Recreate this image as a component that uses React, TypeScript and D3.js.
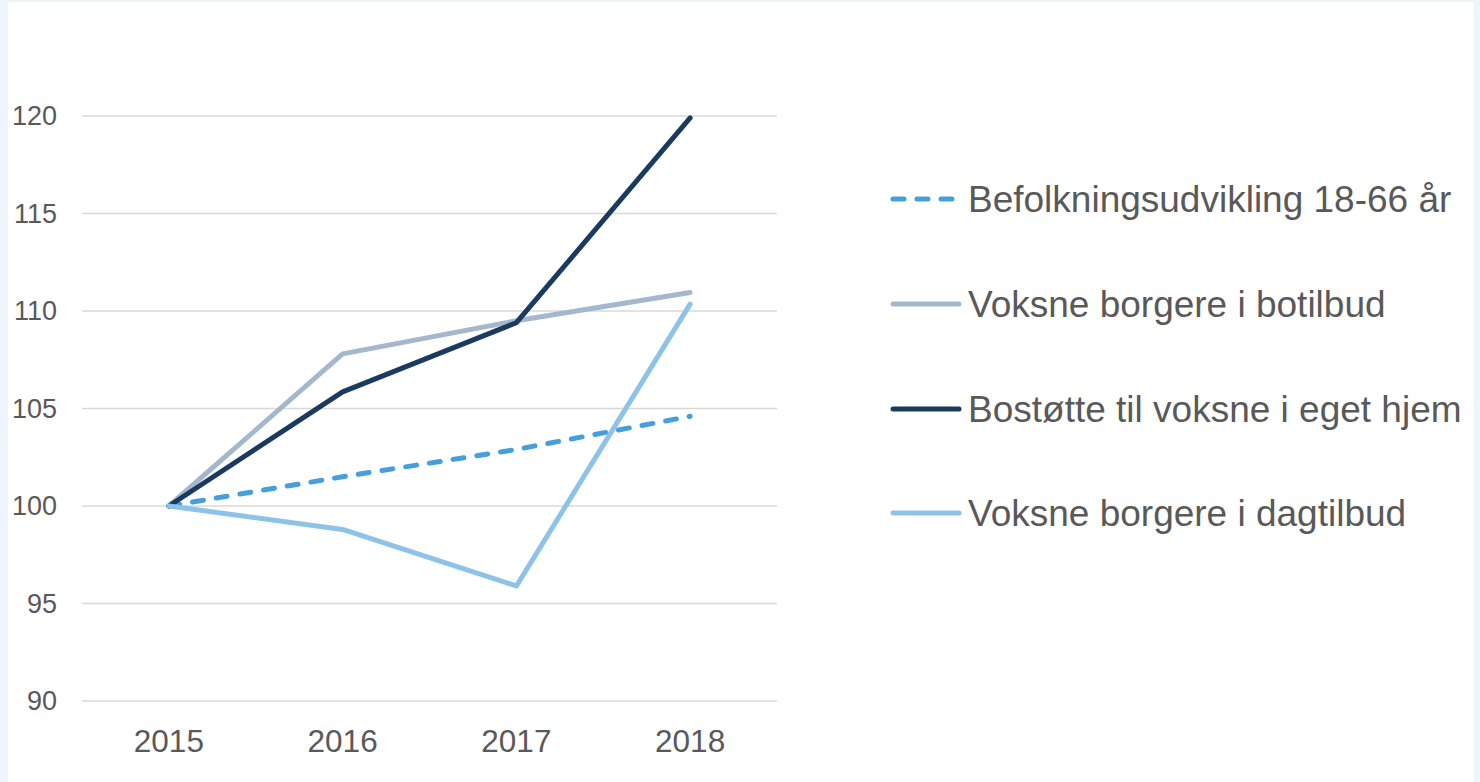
import React from "react";
import * as d3 from "d3";

const years = ["2015", "2016", "2017", "2018"];
const yTicks = [90, 95, 100, 105, 110, 115, 120];

const befolkning = [100, 101.5, 102.9, 104.6];
const botilbud = [100, 107.8, 109.5, 110.95];
const bostotte = [100, 105.85, 109.4, 119.9];
const dagtilbud = [100, 98.8, 95.9, 110.35];

const seriesNames = [
  "Befolkningsudvikling 18-66 år",
  "Voksne borgere i botilbud",
  "Bostøtte til voksne i eget hjem",
  "Voksne borgere i dagtilbud",
];
const seriesValues = [befolkning, botilbud, bostotte, dagtilbud];
const seriesColors = ["#449FDB", "#A3B8CD", "#1B3A5F", "#8DC3E8"];
const seriesDash = ["11 13", null, null, null];

const W = 1480;
const H = 782;

export default function App() {
  const x = d3.scaleBand<string>().domain(years).range([82, 777]);
  const y = d3.scaleLinear().domain([90, 120]).range([701, 116]);
  const line = d3
    .line<number>()
    .x((_, i) => (x(years[i]) as number) + x.bandwidth() / 2)
    .y((d) => y(d));

  const legendY = [199, 304, 409, 513];

  return (
    <div style={{ position: "fixed", left: 0, top: 0, width: W, height: H }}>
      <svg width={W} height={H} style={{ display: "block" }} fontFamily="'Liberation Sans', Arial, sans-serif">
        <rect x={0} y={0} width={W} height={H} fill="#EEF4FB" />
        <rect x={8} y={2} width={1466} height={H} fill="#FFFFFF" />
        {yTicks.map((t) => (
          <g key={t}>
            <line x1={82} x2={777} y1={y(t)} y2={y(t)} stroke="#D9D9D9" strokeWidth={1.5} />
            <text x={57} y={y(t)} dy="0.35em" textAnchor="end" fontSize={27} fill="#595959">
              {t}
            </text>
          </g>
        ))}
        {years.map((yr) => (
          <text
            key={yr}
            x={(x(yr) as number) + x.bandwidth() / 2}
            y={740.5}
            dy="0.35em"
            textAnchor="middle"
            fontSize={31.5}
            fill="#595959"
          >
            {yr}
          </text>
        ))}
        {seriesValues.map((vals, i) => (
          <path
            key={seriesNames[i]}
            d={line(vals) as string}
            fill="none"
            stroke={seriesColors[i]}
            strokeWidth={5}
            strokeDasharray={seriesDash[i] ?? undefined}
            strokeLinejoin="round"
            strokeLinecap="round"
          />
        ))}
        {seriesNames.map((name, i) => (
          <g key={name}>
            <line
              x1={893}
              x2={i === 0 ? 955 : 959}
              y1={legendY[i]}
              y2={legendY[i]}
              stroke={seriesColors[i]}
              strokeWidth={5}
              strokeDasharray={seriesDash[i] ?? undefined}
              strokeLinecap="round"
            />
            <text x={968} y={legendY[i]} dy="0.35em" fontSize={37} fill="#595959">
              {name}
            </text>
          </g>
        ))}
      </svg>
    </div>
  );
}
